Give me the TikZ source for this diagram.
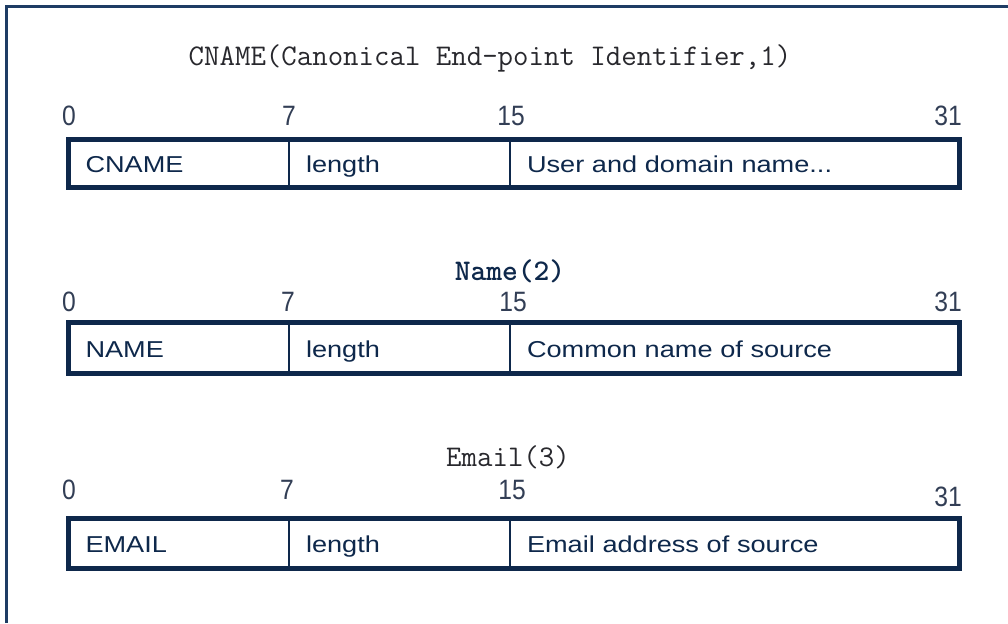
\documentclass[tikz,border=0pt]{standalone}
\usepackage{fontspec}
\newfontfamily\cellfont[FakeStretch=1.18]{Liberation Sans}
\newfontfamily\numfont[FakeStretch=0.88]{Liberation Sans}
\definecolor{navy}{RGB}{14,40,75}
\definecolor{framecol}{RGB}{30,60,100}
\definecolor{numcol}{RGB}{50,62,85}
\definecolor{titlecol}{RGB}{40,40,45}
\tikzset{
  frameline/.style={draw=framecol, line width=3pt},
  fld/.style={draw=navy, line width=1.3pt, anchor=west, outer sep=0pt, inner xsep=17pt,
    text height=19pt, text depth=1pt,
    align=left, text=navy, font=\cellfont\fontsize{23}{26}\selectfont},
  fa/.style={fld, minimum width=220.5pt, text width=186.5pt},
  fb/.style={fld, minimum width=221pt, text width=187pt},
  fc/.style={fld, minimum width=449.5pt, text width=415.5pt},
  outerbox/.style={draw=navy, line width=5pt},
  bitnum/.style={text=numcol, font=\numfont\fontsize{28}{30}\selectfont, inner sep=0pt},
  ttl/.style={text=titlecol, font=\ttfamily\fontsize{30}{32}\selectfont, inner sep=0pt},
  ttlb/.style={text=navy, font=\ttfamily\bfseries\fontsize{30}{32}\selectfont, inner sep=0pt}
}
\begin{document}
\begin{tikzpicture}[x=1pt,y=-1pt]
\useasboundingbox (0,0) rectangle (1008,623);
\fill[white] (0,0) rectangle (1008,623);
\draw[frameline] (6.5,623) -- (6.5,6.5) -- (1008,6.5);

% --- CNAME ---
\node[ttl] (t1) at (490,58) {CNAME(Canonical End-point Identifier,1)};
\node[bitnum] (n10) at (69,116) {0};
\node[bitnum] (n17) at (289,116) {7};
\node[bitnum] (n115) at (511,116) {15};
\node[bitnum, anchor=east] (n131) at (962,116) {31};
\node[fa, minimum height=48pt] (a1) at (68.5,163.5) {CNAME};
\node[fb, minimum height=48pt] (a2) at (a1.east) {length};
\node[fc, minimum height=48pt] (a3) at (a2.east) {User and domain name...};
\draw[outerbox] (a1.north west) rectangle (a3.south east);

% --- NAME ---
\node[ttlb] (t2) at (510,271) {Name(2)};
\node[bitnum] (n20) at (69,302) {0};
\node[bitnum] (n27) at (288,302) {7};
\node[bitnum] (n215) at (513,302) {15};
\node[bitnum, anchor=east] (n231) at (962,302) {31};
\node[fa, minimum height=51pt] (b1) at (68.5,348) {NAME};
\node[fb, minimum height=51pt] (b2) at (b1.east) {length};
\node[fc, minimum height=51pt] (b3) at (b2.east) {Common name of source};
\draw[outerbox] (b1.north west) rectangle (b3.south east);

% --- EMAIL ---
\node[ttl] (t3) at (508,457) {Email(3)};
\node[bitnum] (n30) at (69,490) {0};
\node[bitnum] (n37) at (287,490) {7};
\node[bitnum] (n315) at (512,490) {15};
\node[bitnum, anchor=east] (n331) at (962,497) {31};
\node[fa, minimum height=50pt] (e1) at (68.5,543.5) {EMAIL};
\node[fb, minimum height=50pt] (e2) at (e1.east) {length};
\node[fc, minimum height=50pt] (e3) at (e2.east) {Email address of source};
\draw[outerbox] (e1.north west) rectangle (e3.south east);
\end{tikzpicture}
\end{document}
